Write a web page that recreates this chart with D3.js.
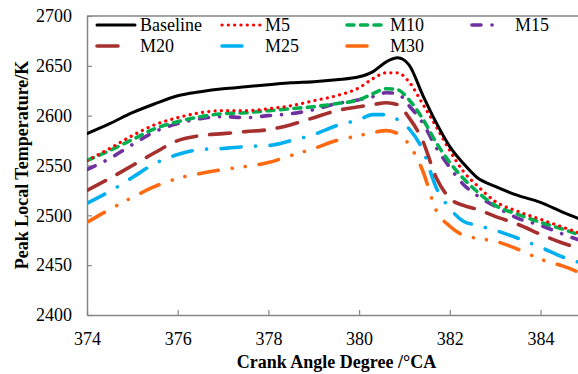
<!DOCTYPE html>
<html>
<head>
<meta charset="utf-8">
<script src="https://cdn.jsdelivr.net/npm/d3@7"></script>
<style>
  body { margin: 0; background: #fff; }
  svg { display: block; }
</style>
</head>
<body>
<script>
// crank angle samples (°CA)
const crank = [374, 374.5, 375, 375.5, 376, 376.5, 377, 377.5, 378, 378.5, 379, 379.5,
  380, 380.3, 380.6, 380.85, 381.1, 381.4, 381.7, 382, 382.3, 382.6, 383, 383.5, 384, 384.5, 385];

const baseline = [2582, 2592, 2603, 2612, 2620, 2624, 2627, 2629, 2631, 2633, 2634, 2636,
  2639, 2644, 2654, 2658, 2651, 2621, 2593, 2569, 2552, 2538, 2529, 2520, 2513, 2503, 2494];
const m5 = [2555, 2567, 2580, 2591, 2598, 2603, 2605, 2605, 2607, 2610, 2615, 2620,
  2628, 2637, 2643, 2643, 2634, 2612, 2589, 2565, 2544, 2530, 2514, 2504, 2496, 2488, 2480];
const m10 = [2555, 2565, 2576, 2587, 2594, 2599, 2602, 2603, 2605, 2607, 2609, 2612,
  2616, 2622, 2627, 2626, 2616, 2597, 2573, 2553, 2537, 2524, 2510, 2501, 2493, 2486, 2478];
const m15 = [2546, 2557, 2571, 2584, 2592, 2597, 2599, 2598, 2600, 2602, 2606, 2612,
  2616, 2619, 2623, 2622, 2610, 2593, 2568, 2548, 2531, 2520, 2509, 2497, 2490, 2481, 2473];
const m20 = [2525, 2537, 2550, 2563, 2575, 2580, 2582, 2584, 2586, 2591, 2598, 2605,
  2609, 2611, 2613, 2611, 2598, 2575, 2538, 2517, 2510, 2506, 2499, 2491, 2481, 2472, 2465];
const m25 = [2512, 2524, 2538, 2552, 2561, 2566, 2567, 2569, 2570, 2575, 2581, 2590,
  2596, 2601, 2601, 2596, 2587, 2566, 2528, 2507, 2494, 2490, 2485, 2477, 2468, 2458, 2451];
const m30 = [2493, 2506, 2518, 2529, 2537, 2542, 2546, 2549, 2553, 2560, 2567, 2575,
  2580, 2583, 2585, 2582, 2571, 2545, 2505, 2489, 2480, 2477, 2474, 2466, 2456, 2449, 2440];

const names = ["Baseline", "M5", "M10", "M15", "M20", "M25", "M30"];
const values = [baseline, m5, m10, m15, m20, m25, m30];

const xTicks = [374, 376, 378, 380, 382, 384];
const yTicks = [2400, 2450, 2500, 2550, 2600, 2650, 2700];

// line looks (colour, width, dash, legend sample length)
const styles = [
  { color: "#000000", width: 3, dash: null, cap: "round", sample: 38 },
  { color: "#ff0000", width: 3.2, dash: "0.1 6.2", cap: "round", sample: 38 },
  { color: "#00b050", width: 3.6, dash: "7 6.5", cap: "round", sample: 38 },
  { color: "#7030a0", width: 3.6, dash: "9 11 0.1 11", cap: "round", sample: 28 },
  { color: "#a5302e", width: 3.6, dash: "21 13", cap: "round", sample: 28 },
  { color: "#00b0f0", width: 3.6, dash: "20 14.5 0.1 14.5", cap: "round", sample: 28 },
  { color: "#ff6a10", width: 3.6, dash: "20 14 0.1 13 0.1 14", cap: "round", sample: 28 }
];

const width = 578, height = 374;
const font = "Liberation Serif";
const axisColor = "#868686";

const svg = d3.select("body").append("svg")
  .attr("width", width)
  .attr("height", height)
  .attr("viewBox", [0, 0, width, height]);

const x = d3.scaleLinear().domain([374, 386]).range([87, 87 + 6 * 90.7]);
const y = d3.scaleLinear().domain([2400, 2700]).range([315, 16]);

// axes
const yAxis = svg.append("g")
  .attr("transform", `translate(${x(374)},0)`)
  .call(d3.axisLeft(y).tickValues(yTicks).tickFormat(d3.format("d"))
    .tickSizeInner(-5).tickSizeOuter(0).tickPadding(15));

const xAxis = svg.append("g")
  .attr("transform", `translate(0,${y(2400)})`)
  .call(d3.axisBottom(x).tickValues(xTicks).tickFormat(d3.format("d"))
    .tickSizeInner(-5).tickSizeOuter(0).tickPadding(17));

for (const g of [xAxis, yAxis]) {
  g.attr("font-family", font);
  g.select(".domain").attr("stroke", axisColor).attr("stroke-width", 1.5);
  g.selectAll(".tick line").attr("stroke", axisColor).attr("stroke-width", 1.2);
  g.selectAll(".tick text")
    .attr("fill", "#000")
    .attr("font-family", font)
    .attr("font-size", 18);
}

// legend frame top edge
svg.append("line")
  .attr("x1", x(374)).attr("x2", width)
  .attr("y1", 16).attr("y2", 16)
  .attr("stroke", axisColor)
  .attr("stroke-width", 1.5);

// series
const line = d3.line()
  .x(d => x(d[0]))
  .y(d => y(d[1]))
  .curve(d3.curveMonotoneX);

svg.append("defs").append("clipPath").attr("id", "plot")
  .append("rect").attr("x", x(374)).attr("y", 0).attr("width", width - x(374)).attr("height", y(2400));

const series = names.map((n, i) => ({ name: n, pts: crank.map((c, j) => [c, values[i][j]]), st: styles[i] }));

svg.append("g")
  .attr("clip-path", "url(#plot)")
  .selectAll("path")
  .data(series.slice().reverse())
  .join("path")
  .attr("fill", "none")
  .attr("stroke", d => d.st.color)
  .attr("stroke-width", d => d.st.width)
  .attr("stroke-dasharray", d => d.st.dash)
  .attr("stroke-linecap", d => d.st.cap)
  .attr("stroke-linejoin", "round")
  .attr("d", d => line(d.pts));

// legend
const legend = svg.append("g")
  .selectAll("g")
  .data(series)
  .join("g")
  .attr("transform", (d, i) => `translate(${97 + (i % 4) * 125},${25 + Math.floor(i / 4) * 21})`);

legend.append("line")
  .attr("x1", 0)
  .attr("x2", d => d.st.sample)
  .attr("y1", 0).attr("y2", 0)
  .attr("stroke", d => d.st.color)
  .attr("stroke-width", d => d.st.width)
  .attr("stroke-dasharray", d => d.st.dash)
  .attr("stroke-linecap", d => d.st.cap);

legend.append("text")
  .attr("x", 43)
  .attr("dy", "0.35em")
  .attr("font-family", font)
  .attr("font-size", 18)
  .text(d => d.name);

// axis titles
svg.append("text")
  .attr("x", (x(374) + width) / 2 + 4)
  .attr("y", 368)
  .attr("text-anchor", "middle")
  .attr("font-family", font)
  .attr("font-size", 18)
  .attr("font-weight", "bold")
  .text("Crank Angle Degree /°CA");

svg.append("text")
  .attr("transform", "translate(28,165) rotate(-90)")
  .attr("text-anchor", "middle")
  .attr("font-family", font)
  .attr("font-size", 18)
  .attr("font-weight", "bold")
  .text("Peak Local Temperature/K");
</script>
</body>
</html>
